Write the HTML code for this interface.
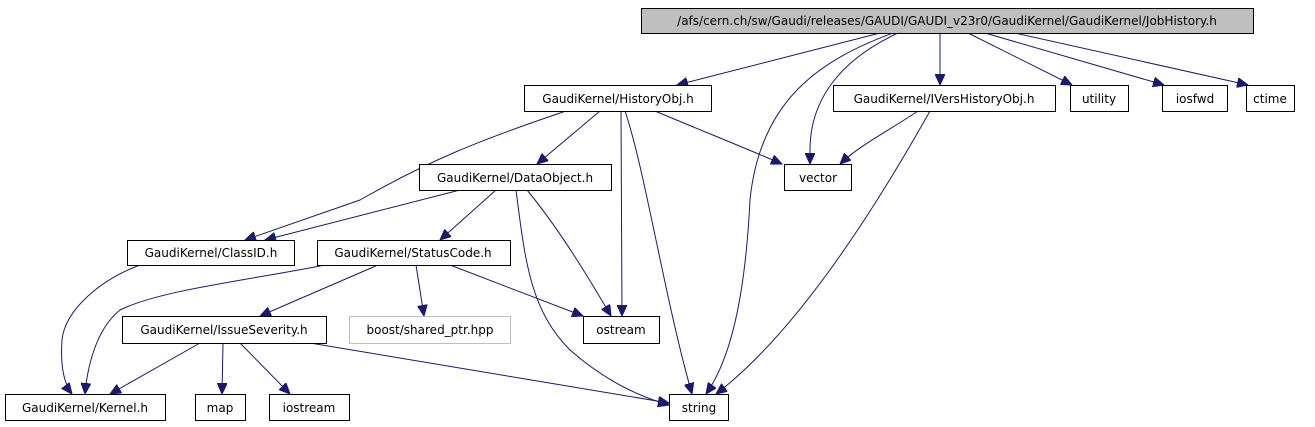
<!DOCTYPE html>
<html><head><meta charset="utf-8"><style>
html,body{margin:0;padding:0;background:#fff;}
svg{display:block;}
text{font-family:"DejaVu Sans","Liberation Sans",sans-serif;font-size:12px;fill:#000;}
</style></head><body>
<svg width="1315" height="427" viewBox="0 0 1315 427" xmlns="http://www.w3.org/2000/svg">
<defs>
<marker id="a" markerWidth="12" markerHeight="10" refX="11" refY="5" orient="auto" markerUnits="userSpaceOnUse">
<path d="M0,0 L11,5 L0,10 z" fill="#191970" stroke="#191970"/>
</marker>
</defs>
<g fill="none" stroke="#191970" stroke-width="1" marker-end="url(#a)">
<path d="M880,33 L677,85"/>
<path d="M893,33 C820,60 760,100 750,200 C745,300 730,360 706,394"/>
<path d="M898,33 C840,60 810,100 810,150 L810,164"/>
<path d="M940,33 L940,85"/>
<path d="M968,33 L1072,85"/>
<path d="M985,33 L1164,85"/>
<path d="M1015,33 L1248,85"/>
<path d="M566,111 C480,140 430,160 360,200 L245,240"/>
<path d="M600,111 L537,164"/>
<path d="M621,111 L622,316"/>
<path d="M625,111 C645,170 665,300 692,394"/>
<path d="M655,111 C700,130 750,150 782,164"/>
<path d="M918,111 C890,130 860,145 840,164"/>
<path d="M930,111 C880,200 800,330 716,394"/>
<path d="M460,190 L265,240"/>
<path d="M496,190 L440,240"/>
<path d="M527,190 C560,230 590,280 611,316"/>
<path d="M516,190 C525,260 530,310 570,350 C610,385 645,398 669,405"/>
<path d="M140,265 C100,280 65,310 62,340 C60,370 65,385 72,394"/>
<path d="M325,265 C250,280 160,290 120,310 C95,330 87,370 85,394"/>
<path d="M378,265 L260,316"/>
<path d="M416,265 L424,316"/>
<path d="M450,265 L583,316"/>
<path d="M200,343 L110,394"/>
<path d="M223,343 L222,394"/>
<path d="M240,343 L290,394"/>
<path d="M310,343 L669,403"/>
</g>
<g stroke="#000" stroke-width="1" fill="#fff">
<rect x="641.5" y="8.5" width="612" height="25" fill="#bfbfbf"/>
<rect x="524.5" y="85.5" width="187" height="26"/>
<rect x="833.5" y="85.5" width="222" height="26"/>
<rect x="1070.5" y="85.5" width="58" height="26"/>
<rect x="1162.5" y="85.5" width="65" height="26"/>
<rect x="1246.5" y="85.5" width="48" height="26"/>
<rect x="419.5" y="164.5" width="192" height="26"/>
<rect x="784.5" y="164.5" width="67" height="26"/>
<rect x="127.5" y="240.5" width="167" height="25"/>
<rect x="317.5" y="240.5" width="193" height="25"/>
<rect x="122.5" y="316.5" width="204" height="27"/>
<rect x="349.5" y="316.5" width="161" height="27" stroke="#bfbfbf"/>
<rect x="583.5" y="316.5" width="76" height="27"/>
<rect x="5.5" y="394.5" width="160" height="26"/>
<rect x="195.5" y="394.5" width="50" height="26"/>
<rect x="269.5" y="394.5" width="80" height="26"/>
<rect x="669.5" y="394.5" width="59" height="26"/>
</g>
<g text-anchor="middle">
<text x="947" y="25">/afs/cern.ch/sw/Gaudi/releases/GAUDI/GAUDI_v23r0/GaudiKernel/GaudiKernel/JobHistory.h</text>
<text x="618" y="103">GaudiKernel/HistoryObj.h</text>
<text x="944" y="103">GaudiKernel/IVersHistoryObj.h</text>
<text x="1099" y="103">utility</text>
<text x="1195" y="103">iosfwd</text>
<text x="1270" y="103">ctime</text>
<text x="515" y="182">GaudiKernel/DataObject.h</text>
<text x="818" y="182">vector</text>
<text x="211" y="257">GaudiKernel/ClassID.h</text>
<text x="413" y="257">GaudiKernel/StatusCode.h</text>
<text x="224" y="334">GaudiKernel/IssueSeverity.h</text>
<text x="430" y="334">boost/shared_ptr.hpp</text>
<text x="621" y="334">ostream</text>
<text x="85" y="412">GaudiKernel/Kernel.h</text>
<text x="220" y="412">map</text>
<text x="309" y="412">iostream</text>
<text x="699" y="412">string</text>
</g>
</svg>
</body></html>
